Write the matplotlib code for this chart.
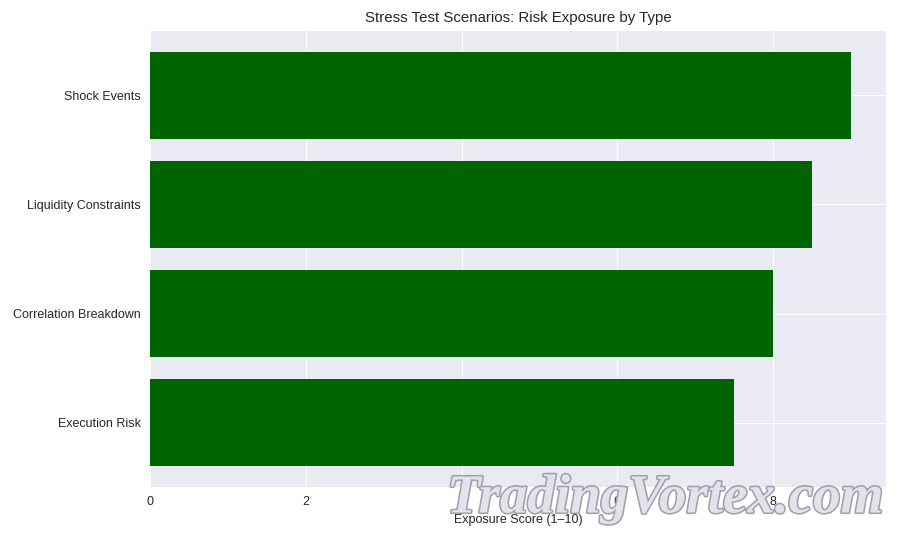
import matplotlib
matplotlib.use('Agg')
import matplotlib.pyplot as plt
import matplotlib.patheffects as pe

# --- Dados ---
categorias = ['Execution Risk', 'Correlation Breakdown', 'Liquidity Constraints', 'Shock Events']
exposicao = [7.5, 8.0, 8.5, 9.0]

plt.style.use('seaborn-v0_8-darkgrid')
plt.rcParams['font.family'] = ['Liberation Sans', 'DejaVu Sans']

fig, ax = plt.subplots(figsize=(10, 6), dpi=90)
fig.subplots_adjust(left=0.1667, right=0.9844, top=0.9426, bottom=0.0981)

ax.barh(categorias, exposicao, color='darkgreen')
ax.set_title('Stress Test Scenarios: Risk Exposure by Type', pad=7)
ax.set_xlabel('Exposure Score (1–10)', labelpad=5)
ax.tick_params(axis='x', pad=7)
ax.tick_params(axis='y', pad=7.5)

# marca d'água
fig.text(0.739, 0.075, 'TradingVortex.com', fontsize=44, family='Liberation Serif',
         style='italic', weight='bold', color='#e2e2ec', ha='center', va='center',
         path_effects=[pe.withStroke(linewidth=2.5, foreground='#a0a0ac')])

fig.savefig('out.png')
